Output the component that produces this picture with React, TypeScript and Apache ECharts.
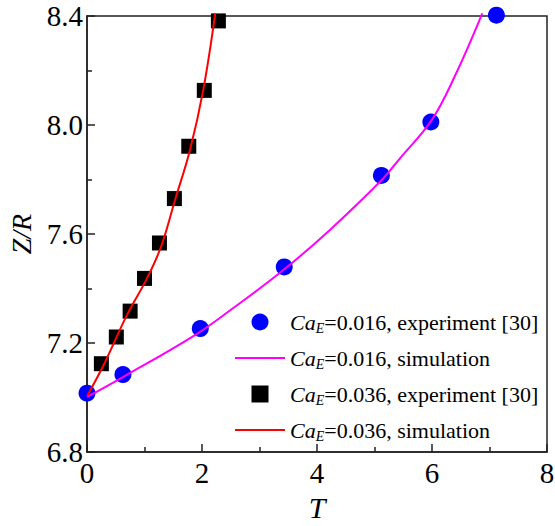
import React, { useEffect, useRef } from "react";
import * as echarts from "echarts";

// Ca_E = 0.016: experiment [30]
const expT016 = [0, 0.625, 1.97, 3.43, 5.12, 5.98, 7.12];
const expZ016 = [7.016, 7.084, 7.253, 7.479, 7.815, 8.011, 8.403];

// Ca_E = 0.016: simulation
const simT016 = [0, 0.625, 1.9, 2.49, 3.41, 4.22, 5.12, 5.44, 5.99, 6.39, 6.875];
const simZ016 = [7.002, 7.075, 7.232, 7.32, 7.467, 7.614, 7.797, 7.877, 8.017, 8.176, 8.41];

// Ca_E = 0.036: experiment [30]
const expT036 = [0.25, 0.51, 0.75, 1.0, 1.26, 1.52, 1.77, 2.04, 2.285];
const expZ036 = [7.124, 7.222, 7.317, 7.437, 7.567, 7.73, 7.922, 8.127, 8.382];

// Ca_E = 0.036: simulation
const simT036 = [0, 0.3, 0.7, 1.05, 1.29, 1.53, 1.79, 2.02, 2.23];
const simZ036 = [7.005, 7.124, 7.305, 7.44, 7.555, 7.724, 7.907, 8.127, 8.41];

const seriesNames = [
  "CaE=0.016, experiment [30]",
  "CaE=0.016, simulation",
  "CaE=0.036, experiment [30]",
  "CaE=0.036, simulation",
];
const legendTails = [
  "=0.016, experiment [30]",
  "=0.016, simulation",
  "=0.036, experiment [30]",
  "=0.036, simulation",
];

const xTicks = [0, 8, 2];
const yTicks = [6.8, 8.4, 0.4];

const FONT = "'Liberation Serif', 'Times New Roman', serif";

// legend glyphs: a thin bar for the simulation curves, a square for the 0.036 data
const LINE_ICON = "path://M0,0h50v2h-50z";
const SQUARE_ICON = "path://M0,0h10v10h-10z";

const zip = (xs: number[], ys: number[]) => xs.map((x, i) => [x, ys[i]]);

export default function App() {
  const ref = useRef<HTMLDivElement>(null);

  useEffect(() => {
    if (!ref.current) return;
    const chart = echarts.init(ref.current, null, { renderer: "svg" });
    const axisColor = "#222";
    chart.setOption({
      animation: false,
      backgroundColor: "#fff",
      grid: {
        left: 87,
        right: 8,
        top: 16,
        bottom: 74,
        outerBoundsMode: "none",
        containLabel: false,
        show: true,
        borderColor: axisColor,
        borderWidth: 1.5,
      },
      xAxis: {
        type: "value",
        min: xTicks[0],
        max: xTicks[1],
        interval: xTicks[2],
        name: "T",
        nameLocation: "middle",
        nameGap: 40,
        nameTextStyle: { fontFamily: FONT, fontStyle: "italic", fontSize: 30, color: "#000" },
        axisLine: { show: true, lineStyle: { color: axisColor, width: 1.5 } },
        axisTick: { show: true, inside: true, length: 8, lineStyle: { color: axisColor, width: 1.5 } },
        minorTick: { show: true, splitNumber: 2, length: 5, lineStyle: { color: axisColor, width: 1.5 } },
        axisLabel: { fontFamily: FONT, fontSize: 29, color: "#000", margin: 6 },
        splitLine: { show: false },
      },
      yAxis: {
        type: "value",
        min: yTicks[0],
        max: yTicks[1],
        interval: yTicks[2],
        name: "Z/R",
        nameLocation: "middle",
        nameGap: 50,
        nameTextStyle: { fontFamily: FONT, fontStyle: "italic", fontSize: 28, color: "#000" },
        axisLine: { show: true, lineStyle: { color: axisColor, width: 1.5 } },
        axisTick: { show: true, inside: true, length: 8, lineStyle: { color: axisColor, width: 1.5 } },
        minorTick: { show: true, splitNumber: 2, length: 5, lineStyle: { color: axisColor, width: 1.5 } },
        axisLabel: {
          fontFamily: FONT,
          fontSize: 29,
          color: "#000",
          margin: 4,
          formatter: (v: number) => v.toFixed(1),
        },
        splitLine: { show: false },
      },
      legend: {
        orient: "vertical",
        left: 230,
        top: 306,
        itemWidth: 50,
        itemHeight: 17,
        itemGap: 12,
        textStyle: {
          fontFamily: FONT,
          color: "#000",
          fontSize: 22,
          rich: {
            it: { fontFamily: FONT, fontStyle: "italic", fontSize: 22, color: "#000" },
            sub: { fontFamily: FONT, fontStyle: "italic", fontSize: 14, color: "#000", padding: [12, 0, 0, 0] },
            n: { fontFamily: FONT, fontSize: 22, color: "#000" },
          },
        },
        formatter: (name: string) => {
          const i = seriesNames.indexOf(name);
          return `{it|Ca}{sub|E}{n|${legendTails[i]}}`;
        },
        data: [
          { name: seriesNames[0], icon: "circle" },
          { name: seriesNames[1], icon: LINE_ICON },
          { name: seriesNames[2], icon: SQUARE_ICON },
          { name: seriesNames[3], icon: LINE_ICON },
        ],
      },
      series: [
        {
          name: seriesNames[0],
          type: "scatter",
          symbol: "circle",
          symbolSize: 17,
          itemStyle: { color: "#0000ff", opacity: 1 },
          data: zip(expT016, expZ016),
          clip: false,
        },
        {
          name: seriesNames[1],
          type: "line",
          smooth: 0.4,
          symbol: "none",
          lineStyle: { color: "#ff00ff", width: 2 },
          itemStyle: { color: "#ff00ff" },
          data: zip(simT016, simZ016),
          clip: false,
        },
        {
          name: seriesNames[2],
          type: "scatter",
          symbol: "rect",
          symbolSize: 15,
          itemStyle: { color: "#000", opacity: 1 },
          data: zip(expT036, expZ036),
          clip: false,
        },
        {
          name: seriesNames[3],
          type: "line",
          smooth: 0.4,
          symbol: "none",
          lineStyle: { color: "#ff0000", width: 2 },
          itemStyle: { color: "#ff0000" },
          data: zip(simT036, simZ036),
          clip: false,
        },
      ],
    });
    return () => chart.dispose();
  }, []);

  return (
    <div
      ref={ref}
      style={{ position: "fixed", left: 0, top: 0, width: 555, height: 526, background: "#fff" }}
    />
  );
}
